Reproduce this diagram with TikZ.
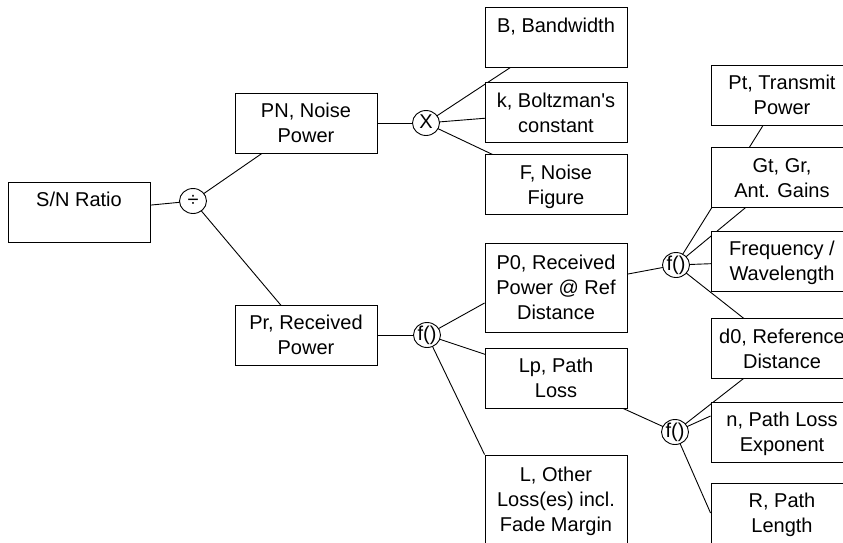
\documentclass[tikz,border=0pt]{standalone}
\usepackage{fontspec}
\setmainfont{Liberation Sans}
\usetikzlibrary{backgrounds,shapes.geometric}
\newcommand\mystrut{\vrule height19.5pt depth5.5pt width0pt}
\begin{document}
\begin{tikzpicture}[x=1pt,y=-1pt,
  box/.style={draw=black, fill=white, line width=0.9pt, minimum width=142pt, minimum height=60pt, inner sep=0pt, align=center, font=\fontsize{20}{25}\selectfont},
  tall/.style={box, minimum height=89pt},
  op/.style={draw=black, fill=white, line width=0.9pt, ellipse, minimum width=27pt, minimum height=25pt, inner sep=0pt, text height=11pt, text depth=0pt, font=\fontsize{20}{25}\selectfont},
  link/.style={draw=black, line width=0.9pt}]
\useasboundingbox (0,0) rectangle (843,542);
\clip (0,0) rectangle (843,542);
% level 0-1
\node[box] (sn) at (79,212) {\mystrut S/N Ratio\\\mystrut};
\node[op] (div) at (193,201) {÷};
\node[box] (pn) at (306,123) {\mystrut PN, Noise\\\mystrut Power};
\node[box] (pr) at (306,335) {\mystrut Pr, Received\\\mystrut Power};
% noise branch
\node[op] (mul) at (426,123) {X};
\node[box] (bw) at (556,37.5) {\mystrut B, Bandwidth\\\mystrut};
\node[box] (kb) at (556,112.5) {\mystrut k, Boltzman\textquotesingle s\\\mystrut constant};
\node[box] (nf) at (556,184.5) {\mystrut F, Noise\\\mystrut Figure};
% received power branch
\node[op] (fa) at (427,335) {f()};
\node[tall] (p0) at (556,287.5) {\mystrut P0, Received\\\mystrut Power @ Ref\\\mystrut Distance};
\node[box] (lp) at (556,378) {\mystrut Lp, Path\\\mystrut Loss};
\node[tall] (lo) at (556,499.5) {\mystrut L, Other\\\mystrut Loss(es) incl.\\\mystrut Fade Margin};
% P0 inputs
\node[op] (fb) at (676,265) {f()};
\node[box] (pt) at (782,95) {\mystrut Pt, Transmit\\\mystrut Power};
\node[box] (gg) at (782,177.5) {\mystrut Gt, Gr,\\\mystrut Ant. Gains};
\node[box] (fw) at (782,261) {\mystrut Frequency /\\\mystrut Wavelength};
\node[box] (d0) at (782,348.5) {\mystrut d0, Reference\\\mystrut Distance};
% Lp inputs
\node[op] (fc) at (675,432) {f()};
\node[box] (ne) at (782,432) {\mystrut n, Path Loss\\\mystrut Exponent};
\node[box] (rl) at (782,513) {\mystrut R, Path\\\mystrut Length};
\begin{scope}[on background layer]
\draw[link] (sn.center) -- (div.center);
\draw[link] (div.center) -- (pn.center);
\draw[link] (div.center) -- (pr.center);
\draw[link] (pn.center) -- (mul.center);
\draw[link] (mul.center) -- (bw.center);
\draw[link] (mul.center) -- (kb.center);
\draw[link] (mul.center) -- (nf.center);
\draw[link] (pr.center) -- (fa.center);
\draw[link] (fa.center) -- ([yshift=-15.5pt]p0.west);
\draw[link] (fa.center) -- (lp.center);
\draw[link] (fa.center) -- (lo.north west);
\draw[link] (p0.center) -- (fb.center);
\draw[link] (fb.center) -- (pt.center);
\draw[link] (fb.center) -- (gg.center);
\draw[link] (fb.center) -- (fw.center);
\draw[link] (fb.center) -- (d0.center);
\draw[link] (lp.center) -- (fc.center);
\draw[link] (fc.center) -- (d0.center);
\draw[link] (fc.center) -- ([yshift=16pt]ne.west);
\draw[link] (fc.center) -- (rl.west);
\end{scope}
\end{tikzpicture}
\end{document}
